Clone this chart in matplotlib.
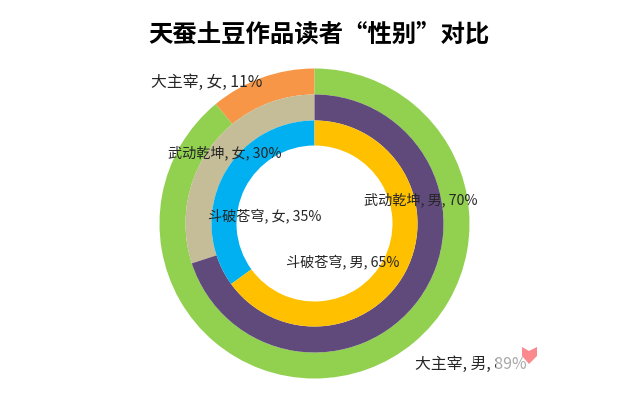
import numpy as np
import matplotlib
matplotlib.use("Agg")
import matplotlib.pyplot as plt
from matplotlib.patches import Polygon, Rectangle

plt.rcParams['font.family'] = ['Noto Sans CJK SC', 'DejaVu Sans']

title = "天蚕土豆作品读者“性别”对比"
outer_labels = ["大主宰, 女, 11%", "大主宰, 男, 89%"]
middle_labels = ["武动乾坤, 女, 30%", "武动乾坤, 男, 70%"]
inner_labels = ["斗破苍穹, 女, 35%", "斗破苍穹, 男, 65%"]
# female first, drawn counter-clockwise from 12 o'clock
outer_values = [11, 89]
middle_values = [30, 70]
inner_values = [35, 65]
outer_colors = ["#F79646", "#92D050"]
middle_colors = ["#C4BD97", "#604A7B"]
inner_colors = ["#00B0F0", "#FFC000"]

fig = plt.figure(figsize=(6.4, 3.93), dpi=100)
ax = fig.add_axes([0, 0, 1, 1])
ax.set_xlim(0, 640)
ax.set_ylim(393, 0)
ax.set_aspect("equal")
ax.axis("off")

cx, cy = 314.5, 223.5
for values, colors, r, w in [
    (outer_values, outer_colors, 155, 26),
    (middle_values, middle_colors, 129, 26),
    (inner_values, inner_colors, 103, 25),
]:
    # y axis is inverted so counterclock=False runs the other way on screen
    ax.pie(values, colors=colors, radius=r, center=(cx, cy), startangle=-90,
           counterclock=False, wedgeprops=dict(width=w, linewidth=0), frame=False)

ax.set_xlim(0, 640)
ax.set_ylim(393, 0)

txt = "#262626"
ax.text(319, 35, title, ha="center", va="center", fontsize=17.6, fontweight="bold", color="black")
ax.text(207, 82, outer_labels[0], ha="center", va="center", fontsize=11.4, fontweight="light", color=txt)
ax.text(471, 364, outer_labels[1], ha="center", va="center", fontsize=11.4, fontweight="light", color=txt)
ax.text(225, 153, middle_labels[0], ha="center", va="center", fontsize=10.2, fontweight="light", color=txt)
ax.text(421, 200, middle_labels[1], ha="center", va="center", fontsize=10.2, fontweight="light", color=txt)
ax.text(265, 217, inner_labels[0], ha="center", va="center", fontsize=10.2, fontweight="light", color=txt)
ax.text(343, 263, inner_labels[1], ha="center", va="center", fontsize=10.2, fontweight="light", color=txt)

# watermark sitting over the bottom label
ax.add_patch(Rectangle((496, 354), 34, 20, color="white", alpha=0.6, lw=0, zorder=5))
ax.add_patch(Rectangle((463, 354), 12, 8, color="white", alpha=0.4, lw=0, zorder=5))
ax.add_patch(Polygon([(522, 347), (529, 351), (537, 347), (537, 356), (529, 364), (522, 356)],
                     closed=True, color="#FB8A8F", lw=0, zorder=6))

fig.savefig("out.png", dpi=100)
